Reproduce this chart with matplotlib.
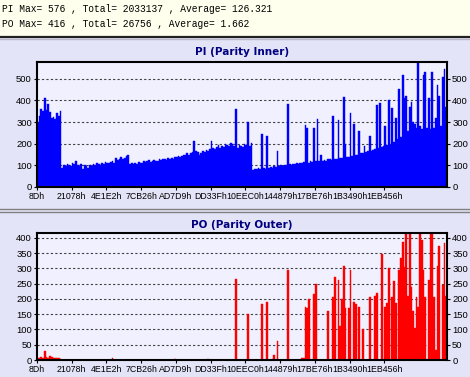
import matplotlib
matplotlib.use("Agg")
import matplotlib.pyplot as plt
from matplotlib.patches import Rectangle
from matplotlib.lines import Line2D

W, H = 470, 377

tick_labels = ["8Dh", "21078h", "4E1E2h", "7CB26h", "AD7D9h", "DD33Fh",
               "10EEC0h", "144879h", "17BE76h", "1B3490h", "1EB456h"]
tick_step = 20

pi_values = [
    300, 330, 360, 350, 410, 355, 385, 345, 320, 325, 315, 340, 330, 350,
    90, 100, 95, 105, 100, 95, 110, 105, 120, 100, 95, 105,
    85, 100, 95, 90, 100, 95, 105, 100, 110, 105, 100, 110, 105, 115, 110,
    110, 115, 120, 110, 135, 125, 130, 140, 130, 135, 145, 150,
    105, 110, 105, 110, 108, 115, 110, 112, 120, 115, 118, 125, 115, 120, 125, 118, 122, 128,
    125, 128, 130, 125, 132, 128, 135, 130, 138, 140, 142, 138, 145, 150, 148, 155, 150, 158, 160,
    215, 165, 160, 150, 158, 165, 160, 170, 168, 175,
    215, 180, 175, 185, 195, 180, 190, 185, 200, 195, 188, 205, 200, 190,
    360, 180, 195, 190, 185, 200, 195, 300, 190, 205,
    80, 85, 82, 88, 85, 245, 90, 85, 235, 88, 92, 90, 95, 92, 165, 95, 100, 98, 102, 100,
    385, 105, 102, 108, 105, 110, 108, 112, 110, 115,
    285, 275, 112, 118, 115, 275, 120, 315, 118, 150, 122, 125, 120, 128, 130, 125,
    330, 130, 128, 310, 135, 132, 415, 200, 138, 140, 340, 145, 290, 148, 150, 260,
    155, 158, 190, 160, 165, 235, 168, 172, 175, 380, 180, 390, 185, 190, 280, 195,
    400, 200, 365, 210, 320, 220, 455, 230, 520, 410, 420, 260, 370, 395, 300, 290,
    275, 576, 280, 270, 520, 530, 275, 410, 270, 530, 275, 320, 470, 420, 280, 510,
    545, 370,
]

po_values = [0] * len(pi_values)
po_points = {
    0: 5, 1: 8, 2: 10, 3: 8, 4: 30, 5: 10, 6: 8, 7: 12, 8: 10, 9: 8, 10: 6, 11: 8, 12: 5, 13: 3,
    43: 6, 79: 3, 98: 3,
    114: 265, 121: 150, 129: 185, 132: 191, 135: 3, 136: 15, 138: 63, 144: 295,
    152: 5, 153: 5, 154: 175, 155: 170, 156: 200, 159: 215, 160: 248, 167: 161,
    170: 205, 171: 271, 173: 262, 174: 112, 175: 200, 176: 307, 177: 170, 179: 170,
    180: 295, 182: 190, 183: 185, 185: 175, 187: 103, 191: 208, 194: 210, 195: 218,
    198: 348, 200: 173, 201: 188, 202: 300, 204: 205, 205: 258, 206: 188, 208: 296,
    209: 335, 210: 385, 211: 304, 212: 415, 213: 210, 214: 412, 215: 240, 216: 160,
    217: 105, 218: 205, 219: 175, 220: 412, 221: 392, 222: 295, 223: 205, 225: 262,
    226: 415, 227: 415, 228: 205, 229: 33, 230: 307, 231: 375, 233: 245, 234: 382, 235: 210,
}
for k, v in po_points.items():
    po_values[k] = v

header1 = "PI Max= 576 , Total= 2033137 , Average= 126.321"
header2 = "PO Max= 416 , Total= 26756 , Average= 1.662"

N = len(pi_values)
xs = list(range(N))

fig = plt.figure(figsize=(W / 100, H / 100), dpi=100)
fig.patch.set_facecolor("#e4e4f8")

def fy(py):
    return 1 - py / H

def fx(px):
    return px / W

# background bands
fig.patches.append(Rectangle((0, fy(37)), 1, 37 / H, transform=fig.transFigure,
                             facecolor="#ffffee", edgecolor="none", zorder=0))
fig.lines.append(Line2D([0, 1], [fy(37), fy(37)], transform=fig.transFigure, color="#202020", lw=1.6))
fig.lines.append(Line2D([0, 1], [fy(39), fy(39)], transform=fig.transFigure, color="#b8b8c8", lw=1.0))
fig.lines.append(Line2D([0, 1], [fy(209), fy(209)], transform=fig.transFigure, color="#808080", lw=1.0))
fig.lines.append(Line2D([0, 1], [fy(211.5), fy(211.5)], transform=fig.transFigure, color="#808080", lw=1.0))

fig.text(fx(2), fy(9), header1, family="Liberation Mono", fontsize=6.9, va="center", ha="left")
fig.text(fx(2), fy(24), header2, family="Liberation Mono", fontsize=6.9, va="center", ha="left")

def make_axes(top, bottom, values, color, ylim, yticks, title, title_y):
    ax = fig.add_axes([fx(37), fy(bottom), fx(447) - fx(37), (bottom - top) / H])
    ax.set_facecolor("#f0f0ff")
    ax.bar(xs, values, width=1.0, align="edge", color=color, edgecolor=color, linewidth=0.3, zorder=2)
    ax.set_xlim(0, N)
    ax.set_ylim(*ylim)
    ax.set_yticks(yticks)
    ax.set_xticks([i * tick_step for i in range(len(tick_labels))])
    ax.set_xticklabels(tick_labels)
    ax.yaxis.grid(True, color="#404040", linestyle=(0, (2, 2)), linewidth=0.8)
    ax.set_axisbelow(True)
    ax.tick_params(axis="both", length=2.5, width=0.8, pad=1.2, colors="black",
                   labelfontfamily="Liberation Sans")
    ax.tick_params(axis="x", labelsize=6.3)
    ax.tick_params(axis="y", labelsize=6.8, left=True, right=True, labelleft=True, labelright=True)
    for s in ax.spines.values():
        s.set_linewidth(1.5)
        s.set_color("black")
    fig.text(fx(242), fy(title_y), title, ha="center", va="center", fontsize=7.5,
             fontweight="bold", color="#000080")
    return ax

make_axes(62, 187, pi_values, "#0000ff", (0, 578), [0, 100, 200, 300, 400, 500],
          "PI (Parity Inner)", 52)
make_axes(233, 360, po_values, "#ff0000", (0, 416),
          [0, 50, 100, 150, 200, 250, 300, 350, 400], "PO (Parity Outer)", 225)

fig.savefig("out.png", dpi=100, facecolor=fig.get_facecolor())
